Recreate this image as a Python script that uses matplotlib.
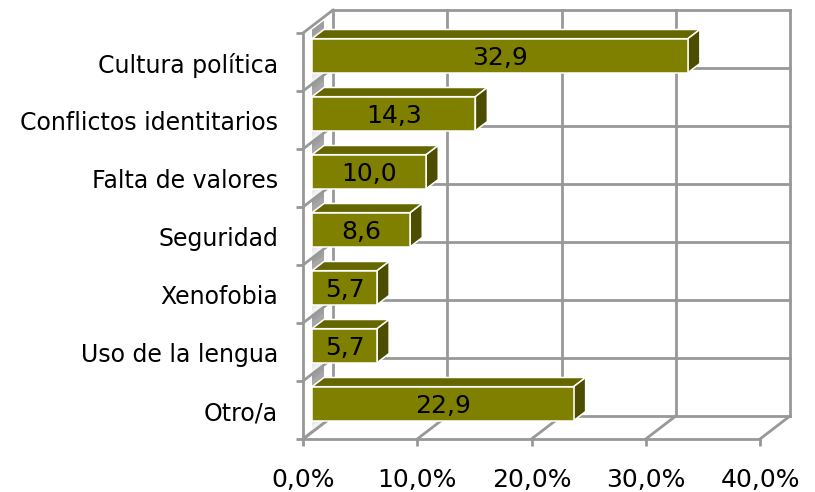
import matplotlib
matplotlib.use("Agg")
import matplotlib.pyplot as plt
from matplotlib.patches import Polygon

categorias = ["Otro/a", "Uso de la lengua", "Xenofobia", "Seguridad",
              "Falta de valores", "Conflictos identitarios", "Cultura política"]
valores = [22.9, 5.7, 5.7, 8.6, 10.0, 14.3, 32.9]
etiquetas = ["22,9", "5,7", "5,7", "8,6", "10,0", "14,3", "32,9"]
ticks_x = [0, 10, 20, 30, 40]
ticks_x_txt = ["0,0%", "10,0%", "20,0%", "30,0%", "40,0%"]

W, H = 815, 492
GRIS = "#989898"

plt.rcParams["font.family"] = "DejaVu Sans"
fig = plt.figure(figsize=(W / 100, H / 100), dpi=100)
# plano frontal: x 303-760 px, y 33-439 px
ax = fig.add_axes([303 / W, 1 - 439 / H, 457 / W, 406 / H])
ax.set_xlim(0, 40)
ax.set_ylim(0, 7)

# desplazamiento de profundidad en unidades de datos
DX = 30 / 457 * 40
DY = 23 / 58


def p(x, y, d):
    # d = 0 plano frontal, d = 1 pared del fondo
    return (x + DX * d, y + DY * d)


def linea(a, b, lw=2, z=1):
    ax.plot([a[0], b[0]], [a[1], b[1]], color=GRIS, lw=lw, clip_on=False,
            zorder=z, solid_capstyle="projecting")


# pared del fondo y lineas de profundidad
for t in ticks_x:
    linea(p(t, 0, 1), p(t, 7, 1))
    linea(p(t, 0, 0), p(t, 0, 1))
for i in range(8):
    linea(p(0, i, 1), p(40, i, 1))
    linea(p(0, i, 0), p(0, i, 1), z=2.5)

# barras
D1, D2 = 0.30, 0.70
ALTO = 34 / 58

# franja gris en la pared izquierda, detras de las barras (degradado por tramo)
n = 10
for i in range(7):
    tope = i + 1 if i < 6 else 6.93
    for k in range(n):
        y_a = i + (tope - i) * k / n
        g = 0.95 - 0.33 * k / (n - 1)
        ax.add_patch(Polygon([p(0, y_a, D1), p(0, y_a, D2), p(0, tope, D2), p(0, tope, D1)],
                             closed=True, fc=(g, g, g), ec="none", clip_on=False, zorder=2))

for i, (v, txt) in enumerate(zip(valores, etiquetas)):
    y0 = i + (1 - ALTO) / 2 - 0.01
    y1 = y0 + ALTO
    cara = [p(0, y0, D1), p(v, y0, D1), p(v, y1, D1), p(0, y1, D1)]
    arriba = [p(0, y1, D1), p(v, y1, D1), p(v, y1, D2), p(0, y1, D2)]
    lado = [p(v, y0, D1), p(v, y0, D2), p(v, y1, D2), p(v, y1, D1)]
    ax.add_patch(Polygon(arriba, closed=True, fc="#666600", ec="white", lw=1.1, clip_on=False, zorder=3))
    ax.add_patch(Polygon(lado, closed=True, fc="#4d4d00", ec="white", lw=1.1, clip_on=False, zorder=3))
    ax.add_patch(Polygon(cara, closed=True, fc="#808000", ec="white", lw=1.1, clip_on=False, zorder=4))
    cx, cy = p(v / 2, (y0 + y1) / 2, D1)
    ax.annotate(txt, (cx, cy), xytext=(0, -1.5), textcoords="offset points",
                ha="center", va="center", fontsize=18, color="black", zorder=5,
                annotation_clip=False)

# ejes
for s in ["top", "right"]:
    ax.spines[s].set_visible(False)
for s in ["left", "bottom"]:
    ax.spines[s].set_color(GRIS)
    ax.spines[s].set_linewidth(2)
ax.set_xticks(ticks_x)
ax.set_xticklabels(ticks_x_txt, fontsize=18)
ax.set_yticks(range(8))
ax.set_yticklabels([])
ax.set_yticks([i + 0.49 for i in range(7)], minor=True)
ax.set_yticklabels(categorias, minor=True, fontsize=17)
ax.tick_params(axis="x", length=5, width=2, color=GRIS, pad=16)
ax.tick_params(axis="y", which="major", length=5, width=2, color=GRIS)
ax.tick_params(axis="y", which="minor", length=0, pad=18)
ax.patch.set_visible(False)

fig.savefig("out.png", dpi=100)
